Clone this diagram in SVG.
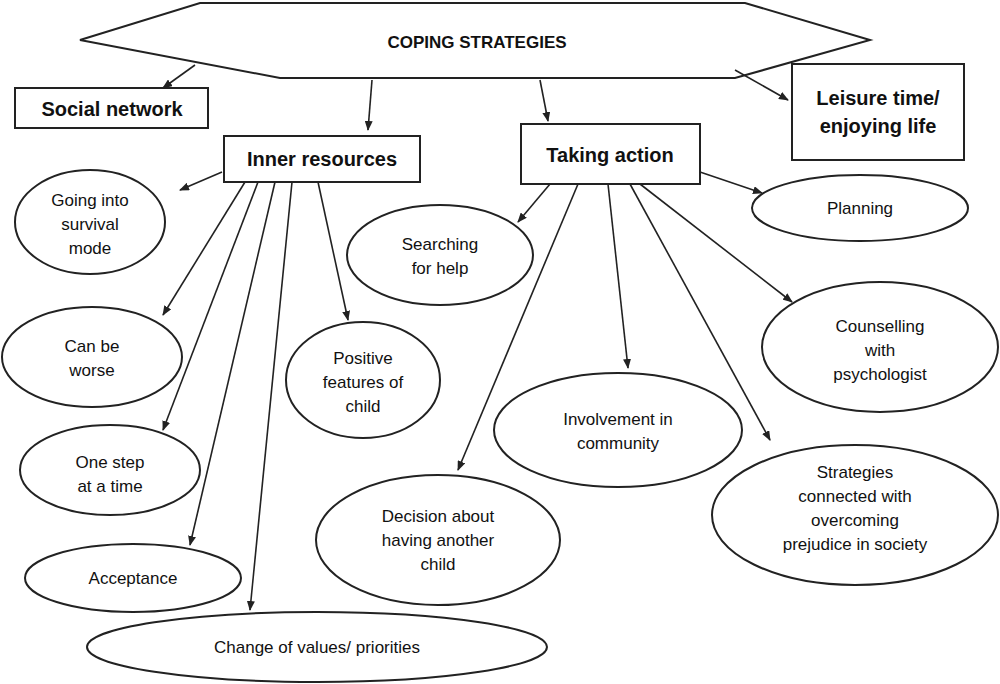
<svg xmlns="http://www.w3.org/2000/svg" width="1000" height="684" viewBox="0 0 1000 684">
<style>
.s{fill:#fff;stroke:#222;stroke-width:2}
text{font-family:"Liberation Sans",Arial,sans-serif;font-size:17px;fill:#111;text-anchor:middle}
.b{font-weight:bold;font-size:20px}
.c line{stroke:#222;stroke-width:1.6;marker-end:url(#a)}
</style>
<defs><marker id="a" markerWidth="10" markerHeight="8" refX="9" refY="4" orient="auto" markerUnits="userSpaceOnUse"><path d="M0,0L10,4L0,8z" fill="#222"/></marker></defs>
<rect width="1000" height="684" fill="#fff"/>
<g id="coping"><polygon class="s" points="80,40 200,3 745,3 870,40 735,78 280,78"/><text x="477" y="48" style="font-weight:bold">COPING STRATEGIES</text></g>
<g id="social"><rect class="s" x="15" y="88" width="193" height="40"/><text class="b" x="112" y="116">Social network</text></g>
<g id="leisure"><rect class="s" x="792" y="64" width="172" height="96"/><text class="b" x="878" y="105">Leisure time/</text><text class="b" x="878" y="133">enjoying life</text></g>
<g id="inner"><rect class="s" x="224" y="136" width="196" height="46"/><text class="b" x="322" y="166">Inner resources</text></g>
<g id="taking"><rect class="s" x="521" y="124" width="179" height="60"/><text class="b" x="610" y="162">Taking action</text></g>
<g id="survival"><ellipse class="s" cx="90" cy="222" rx="75" ry="52"/><text x="90" y="206">Going into</text><text x="90" y="230">survival</text><text x="90" y="254">mode</text></g>
<g id="worse"><ellipse class="s" cx="92" cy="357" rx="90" ry="50"/><text x="92" y="352">Can be</text><text x="92" y="376">worse</text></g>
<g id="onestep"><ellipse class="s" cx="110" cy="470" rx="90" ry="45"/><text x="110" y="468">One step</text><text x="110" y="492">at a time</text></g>
<g id="acceptance"><ellipse class="s" cx="133" cy="578" rx="108" ry="34"/><text x="133" y="584">Acceptance</text></g>
<g id="values"><ellipse class="s" cx="317" cy="647" rx="230" ry="35"/><text x="317" y="653">Change of values/ priorities</text></g>
<g id="positive"><ellipse class="s" cx="363" cy="380" rx="77" ry="58"/><text x="363" y="364">Positive</text><text x="363" y="388">features of</text><text x="363" y="412">child</text></g>
<g id="searching"><ellipse class="s" cx="440" cy="255" rx="93" ry="50"/><text x="440" y="250">Searching</text><text x="440" y="274">for help</text></g>
<g id="decision"><ellipse class="s" cx="438" cy="540" rx="122" ry="65"/><text x="438" y="522">Decision about</text><text x="438" y="546">having another</text><text x="438" y="570">child</text></g>
<g id="involvement"><ellipse class="s" cx="618" cy="430" rx="124" ry="57"/><text x="618" y="425">Involvement in</text><text x="618" y="449">community</text></g>
<g id="planning"><ellipse class="s" cx="860" cy="208" rx="108" ry="33"/><text x="860" y="214">Planning</text></g>
<g id="counselling"><ellipse class="s" cx="880" cy="347" rx="118" ry="65"/><text x="880" y="332">Counselling</text><text x="880" y="356">with</text><text x="880" y="380">psychologist</text></g>
<g id="strategies"><ellipse class="s" cx="855" cy="515" rx="143" ry="70"/><text x="855" y="478">Strategies</text><text x="855" y="502">connected with</text><text x="855" y="526">overcoming</text><text x="855" y="550">prejudice in society</text></g>
<g class="c">
<line x1="195" y1="65" x2="163" y2="88"/>
<line x1="372" y1="80" x2="368" y2="130"/>
<line x1="540" y1="80" x2="548" y2="121"/>
<line x1="735" y1="70" x2="788" y2="100"/>
<line x1="222" y1="172" x2="180" y2="190"/>
<line x1="245" y1="182" x2="163" y2="315"/>
<line x1="258" y1="182" x2="163" y2="430"/>
<line x1="275" y1="182" x2="190" y2="545"/>
<line x1="292" y1="182" x2="250" y2="610"/>
<line x1="318" y1="182" x2="348" y2="320"/>
<line x1="550" y1="184" x2="518" y2="222"/>
<line x1="578" y1="184" x2="458" y2="470"/>
<line x1="608" y1="184" x2="628" y2="368"/>
<line x1="630" y1="184" x2="770" y2="440"/>
<line x1="640" y1="184" x2="792" y2="302"/>
<line x1="700" y1="172" x2="762" y2="193"/>
</g>
</svg>
